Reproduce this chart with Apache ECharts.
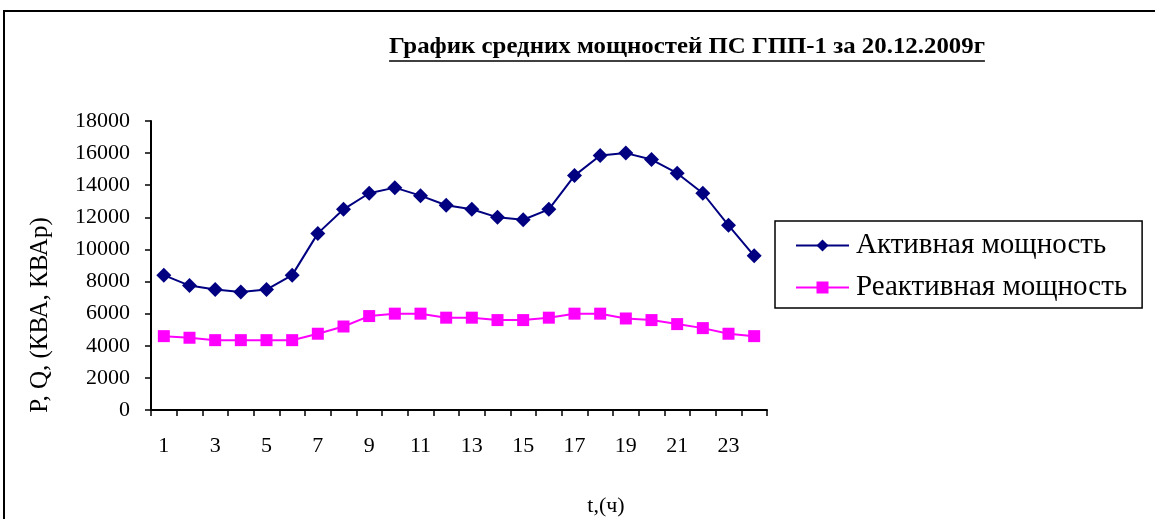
<!DOCTYPE html>
<html>
<head>
<meta charset="utf-8">
<script src="https://cdn.jsdelivr.net/npm/echarts@6/dist/echarts.min.js"></script>
<style>
  html, body { margin: 0; padding: 0; background: #fff; }
  #chart { width: 1155px; height: 519px; }
</style>
</head>
<body>
<div id="chart"></div>
<script>
// Hours of the day
const hours = ['1','2','3','4','5','6','7','8','9','10','11','12','13','14','15','16','17','18','19','20','21','22','23','24'];
// Average active power per hour, kVA
const activePower = [8400, 7750, 7500, 7350, 7500, 8400, 11000, 12500, 13500, 13850, 13350, 12750,
                     12500, 12000, 11850, 12500, 14600, 15850, 16000, 15600, 14750, 13500, 11500, 9600];
// Average reactive power per hour, kVAr
const reactivePower = [4600, 4500, 4350, 4350, 4350, 4350, 4750, 5200, 5850, 6000, 6000, 5750,
                       5750, 5600, 5600, 5750, 6000, 6000, 5700, 5600, 5350, 5100, 4750, 4600];

const seriesNames = ['Активная мощность', 'Реактивная мощность'];
const titleText = 'График средних мощностей ПС ГПП-1 за 20.12.2009г';
const yAxisTitle = 'P, Q, (КВА, КВАр)';
const xAxisTitle = 't,(ч)';

const FONT = '"Liberation Serif", "Times New Roman", serif';

// title: bold, slightly widened, underlined
const titleFontSize = 23;
const titleScaleX = 1.08;
const ctx = document.createElement('canvas').getContext('2d');
ctx.font = 'bold ' + titleFontSize + 'px ' + FONT;
const titleWidth = ctx.measureText(titleText).width * titleScaleX;
const titleCx = 687;

const chart = echarts.init(document.getElementById('chart'), null, { renderer: 'canvas' });

chart.setOption({
  backgroundColor: '#ffffff',
  animation: false,
  grid: { left: 151, right: 388, top: 121, bottom: 109, containLabel: false },
  legend: {
    orient: 'vertical',
    left: 775,
    top: 221,
    padding: [10, 15, 6, 20],
    itemGap: 13,
    itemWidth: 53,
    itemHeight: 15,
    borderColor: '#000',
    borderWidth: 1.5,
    textStyle: { fontFamily: FONT, fontSize: 29, color: '#000', padding: [0, 0, 0, 2] },
    data: seriesNames
  },
  xAxis: {
    type: 'category',
    data: hours,
    boundaryGap: true,
    axisLine: { lineStyle: { color: '#000', width: 2 } },
    axisTick: { show: true, interval: 0, length: 6, lineStyle: { color: '#000', width: 1.5 } },
    axisLabel: { interval: 1, margin: 25, color: '#000', fontFamily: FONT, fontSize: 22 },
    splitLine: { show: false }
  },
  yAxis: {
    type: 'value',
    min: 0,
    max: 18000,
    interval: 2000,
    axisLine: { show: true, lineStyle: { color: '#000', width: 2 } },
    axisTick: { show: true, length: 6, lineStyle: { color: '#000', width: 1.5 } },
    axisLabel: { margin: 21, color: '#000', fontFamily: FONT, fontSize: 22, formatter: v => String(v) },
    splitLine: { show: false }
  },
  series: [
    {
      name: seriesNames[0],
      type: 'line',
      data: activePower,
      symbol: 'diamond',
      symbolSize: 15,
      color: '#000080',
      lineStyle: { color: '#000080', width: 2 },
      itemStyle: { color: '#000080' }
    },
    {
      name: seriesNames[1],
      type: 'line',
      data: reactivePower,
      symbol: 'rect',
      symbolSize: 12,
      color: '#ff00ff',
      lineStyle: { color: '#ff00ff', width: 2 },
      itemStyle: { color: '#ff00ff' }
    }
  ],
  graphic: [
    // outer frame of the chart area
    {
      type: 'rect',
      shape: { x: 4, y: 11, width: 1300, height: 700 },
      style: { fill: 'none', stroke: '#000', lineWidth: 2 },
      silent: true
    },
    {
      type: 'text',
      x: titleCx,
      y: 47,
      scaleX: titleScaleX,
      style: {
        text: titleText,
        fill: '#000',
        font: 'bold ' + titleFontSize + 'px ' + FONT,
        textAlign: 'center',
        textVerticalAlign: 'middle'
      }
    },
    {
      type: 'line',
      shape: { x1: titleCx - titleWidth / 2, y1: 61, x2: titleCx + titleWidth / 2, y2: 61 },
      style: { stroke: '#000', lineWidth: 1.5 },
      silent: true
    },
    {
      type: 'text',
      x: 40,
      y: 315,
      rotation: Math.PI / 2,
      style: {
        text: yAxisTitle,
        fill: '#000',
        font: '25px ' + FONT,
        textAlign: 'center',
        textVerticalAlign: 'middle'
      }
    },
    {
      type: 'text',
      x: 606,
      y: 506,
      style: {
        text: xAxisTitle,
        fill: '#000',
        font: '22px ' + FONT,
        textAlign: 'center',
        textVerticalAlign: 'middle'
      }
    }
  ]
});
</script>
</body>
</html>
